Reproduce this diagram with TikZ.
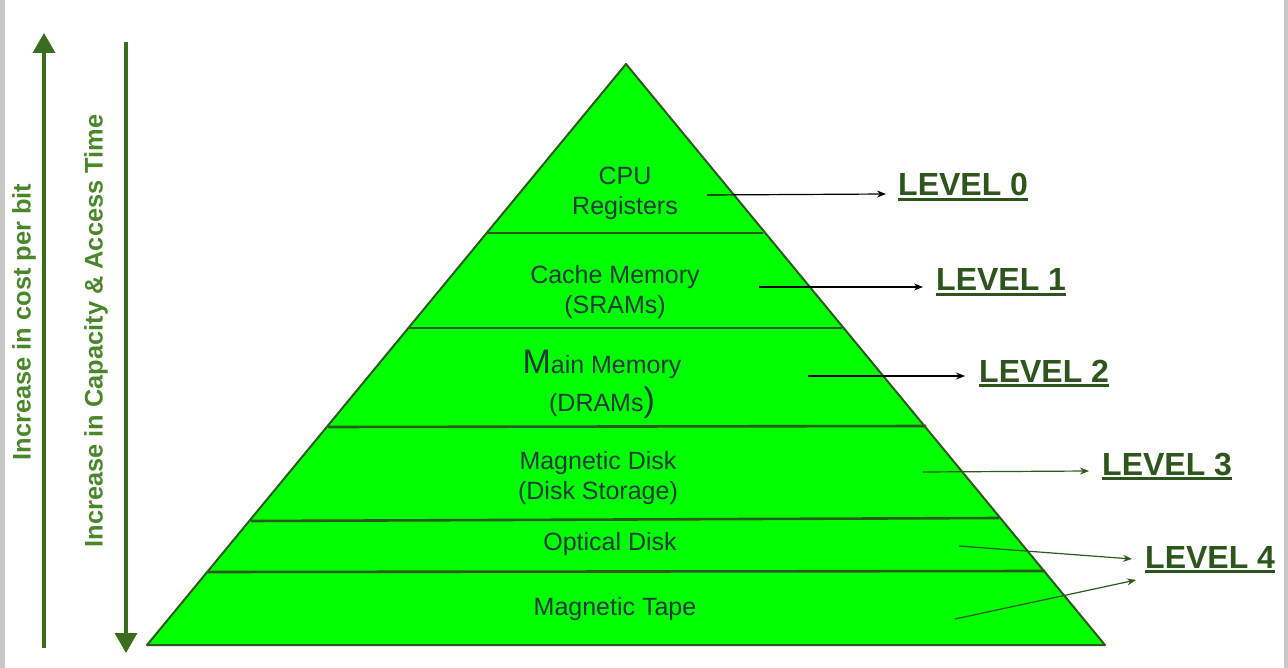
\documentclass[tikz,border=0pt]{standalone}
\usepackage{fontspec}
\setmainfont{Liberation Sans}
\usetikzlibrary{arrows.meta}
\definecolor{pyrfill}{HTML}{00FF00}
\definecolor{pyrline}{HTML}{2D5A1A}
\definecolor{pyrtext}{HTML}{1D3B3A}
\definecolor{lvlgreen}{HTML}{2D561C}
\definecolor{bigarrow}{HTML}{3A6E1F}
\definecolor{sidetext}{HTML}{4A872B}
\definecolor{edgegrey}{HTML}{C8C8C8}
\newcommand\fsz[1]{\fontsize{#1}{1.2\dimexpr#1pt\relax}\selectfont}
\newcommand\ulvl[1]{\setbox0\hbox{#1}\rlap{\rule[-5pt]{\wd0}{2.6pt}}\box0}
\tikzset{
  pyr/.style={fill=pyrfill, draw=pyrline, line width=2pt, line join=round},
  sepline/.style={draw=pyrline, line width=2.6pt},
  layertext/.style={text=pyrtext, align=center, inner sep=0pt, anchor=base, font=\fsz{25}},
  lvl/.style={text=lvlgreen, font=\fsz{32}\bfseries, inner sep=0pt, anchor=base west},
  ptrblack/.style={draw=black, line width=1.2pt, -{Stealth[length=9pt,width=7pt]}},
  ptrgreen/.style={draw=pyrline, line width=1.2pt, -{Stealth[length=9pt,width=7pt]}},
  bigarr/.style={draw=bigarrow, line width=3.5pt, -{Triangle[length=20pt,width=22pt]}},
  side/.style={text=sidetext, font=\fsz{25.4}\bfseries, rotate=90, inner sep=0pt}
}
\begin{document}
\begin{tikzpicture}[x=1pt,y=-1pt]
  \useasboundingbox (0,0) rectangle (1288,668);
  \fill[white] (0,0) rectangle (1288,668);
  \fill[edgegrey] (0,0) rectangle (5,668);
  \fill[edgegrey] (1284,0) rectangle (1288,668);

  % side arrows
  \coordinate (upfoot) at (44,648);
  \coordinate (uptip) at (44,33);
  \coordinate (dnfoot) at (126,42);
  \coordinate (dntip) at (126,653);
  \draw[bigarr] (upfoot) -- (uptip);
  \draw[bigarr] (dnfoot) -- (dntip);
  \node[side] (costtxt) at (24,322) {Increase in cost per bit};
  \node[side] (captxt) at (96,331) {Increase in Capacity \& Access Time};

  % pyramid
  \coordinate (apex) at (626,64);
  \coordinate (bl) at (147,645);
  \coordinate (br) at (1105,645);
  \draw[pyr] (apex) -- (bl) -- (br) -- cycle;
  \draw[sepline] (487,233) -- (763,233);
  \draw[sepline] (408,328) -- (842,328);
  \draw[sepline] (328,427) -- (926,426);
  \draw[sepline] (251,521) -- (999,518);
  \draw[sepline] (208,572) -- (1045,571);

  % layer texts (anchor base = baseline of the last line)
  \node[layertext] (cpu) at (625,215) {CPU\\[0pt]Registers};
  \node[layertext] (cache) at (615,314) {Cache Memory\\[0pt](SRAMs)};
  \node[layertext] (main) at (602,411) {{\fsz{34}M}ain Memory\\[8pt](DRAMs{\fsz{34})}};
  \node[layertext] (mdisk) at (598,499) {Magnetic Disk\\[0pt](Disk Storage)};
  \node[layertext] (optical) at (610,550) {Optical Disk};
  \node[layertext] (tape) at (615,615) {Magnetic Tape};

  % level labels
  \node[lvl] (l0) at (898,196) {\ulvl{LEVEL 0}};
  \node[lvl] (l1) at (936,291) {\ulvl{LEVEL 1}};
  \node[lvl] (l2) at (979,382) {\ulvl{LEVEL 2}};
  \node[lvl] (l3) at (1102,475) {\ulvl{LEVEL 3}};
  \node[lvl] (l4) at (1145,568) {\ulvl{LEVEL 4}};

  % pointers
  \coordinate (s0) at (707,195);  \coordinate (e0) at (886,194);
  \coordinate (s1) at (759,287);  \coordinate (e1) at (923,287);
  \coordinate (s2) at (808,376);  \coordinate (e2) at (965,376);
  \coordinate (s3) at (923,472);  \coordinate (e3) at (1089,471);
  \coordinate (s4a) at (959,546); \coordinate (e4a) at (1132,559);
  \coordinate (s4b) at (955,619); \coordinate (e4b) at (1136,580);
  \draw[ptrblack] (s0) -- (e0);
  \draw[ptrblack] (s1) -- (e1);
  \draw[ptrblack] (s2) -- (e2);
  \draw[ptrgreen] (s3) -- (e3);
  \draw[ptrgreen] (s4a) -- (e4a);
  \draw[ptrgreen] (s4b) -- (e4b);
\end{tikzpicture}
\end{document}
